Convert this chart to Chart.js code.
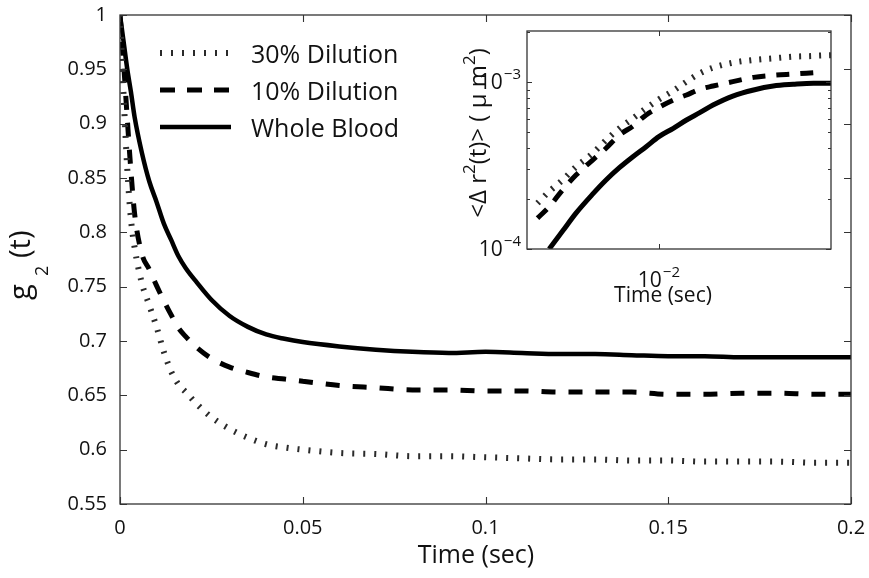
<!DOCTYPE html>
<html><head><meta charset="utf-8">
<script src="https://cdn.jsdelivr.net/npm/chart.js@4.4.0/dist/chart.umd.min.js"></script>
<style>
html,body{margin:0;padding:0;background:#fff;}
#wrap{position:relative;width:869px;height:578px;overflow:hidden;}
#main{position:absolute;left:0;top:0;}
#inset{position:absolute;left:420px;top:20px;}
</style></head><body>
<div id="wrap"><canvas id="main" width="869" height="578"></canvas><canvas id="inset" width="420" height="300"></canvas></div>
<script>
const FONT = '"Open Sans", "Liberation Sans", sans-serif';
const INK = '#111';

// ---- main plot data: g2(t) vs time (sec)
const timeSec = [0, 0.001, 0.002, 0.003, 0.004, 0.006, 0.008, 0.010, 0.012, 0.014, 0.016, 0.018, 0.021, 0.025, 0.03, 0.035, 0.04, 0.045, 0.05, 0.06, 0.07, 0.08, 0.09, 0.1, 0.11, 0.12, 0.13, 0.14, 0.15, 0.16, 0.17, 0.18, 0.19, 0.2];
const dilution30 = [1.0, 0.925, 0.858, 0.812, 0.786, 0.753, 0.733, 0.713, 0.690, 0.672, 0.660, 0.653, 0.642, 0.630, 0.619, 0.611, 0.605, 0.602, 0.600, 0.597, 0.596, 0.594, 0.594, 0.593, 0.592, 0.591, 0.591, 0.590, 0.590, 0.589, 0.589, 0.589, 0.588, 0.588];
const dilution10 = [1.0, 0.955, 0.904, 0.856, 0.817, 0.780, 0.766, 0.751, 0.737, 0.724, 0.712, 0.704, 0.694, 0.684, 0.676, 0.671, 0.667, 0.665, 0.663, 0.659, 0.657, 0.655, 0.655, 0.654, 0.654, 0.653, 0.653, 0.653, 0.651, 0.651, 0.652, 0.652, 0.651, 0.651];
const wholeBlood = [1.0, 0.975, 0.950, 0.929, 0.906, 0.873, 0.847, 0.828, 0.808, 0.793, 0.778, 0.767, 0.754, 0.738, 0.723, 0.713, 0.706, 0.702, 0.699, 0.695, 0.692, 0.690, 0.689, 0.690, 0.689, 0.688, 0.688, 0.687, 0.686, 0.686, 0.685, 0.685, 0.685, 0.685];
const xTickValues = [0, 0.05, 0.1, 0.15, 0.2];
const xTickLabels = ['0', '0.05', '0.1', '0.15', '0.2'];
const yTickValues = [0.55, 0.6, 0.65, 0.7, 0.75, 0.8, 0.85, 0.9, 0.95, 1];
const yTickLabels = ['0.55', '0.6', '0.65', '0.7', '0.75', '0.8', '0.85', '0.9', '0.95', '1'];
const seriesNames = ['30% Dilution', '10% Dilution', 'Whole Blood'];

// ---- inset data: MSD <Δr²(t)> (μm²) vs time (sec), log-log
const insetTime = [0.00448, 0.00484, 0.00529, 0.00578, 0.00645, 0.00705, 0.0077, 0.00842, 0.00919, 0.0100, 0.0110, 0.0120, 0.0131, 0.0143, 0.0163, 0.0187, 0.0213, 0.0243, 0.0278, 0.0287, 0.0312];
const insetDil30 = [1.88e-4, 2.21e-4, 2.59e-4, 3.11e-4, 3.74e-4, 4.49e-4, 5.28e-4, 6.06e-4, 6.96e-4, 7.87e-4, 8.87e-4, 1.005e-3, 1.127e-3, 1.218e-3, 1.305e-3, 1.355e-3, 1.386e-3, 1.418e-3, 1.432e-3, 1.438e-3, 1.445e-3];
const insetDil10 = [1.53e-4, 1.79e-4, 2.26e-4, 2.77e-4, 3.41e-4, 4.01e-4, 4.81e-4, 5.45e-4, 6.35e-4, 7.05e-4, 7.80e-4, 8.36e-4, 9.04e-4, 9.46e-4, 1.005e-3, 1.066e-3, 1.096e-3, 1.116e-3, 1.137e-3, 1.142e-3, null];
const insetWhole = [null, 1.0e-4, 1.28e-4, 1.64e-4, 2.13e-4, 2.59e-4, 3.07e-4, 3.57e-4, 4.10e-4, 4.71e-4, 5.28e-4, 5.92e-4, 6.55e-4, 7.28e-4, 8.24e-4, 8.96e-4, 9.46e-4, 9.68e-4, 9.82e-4, 9.82e-4, 9.82e-4];
const insetXTicks = [1e-2];
const insetYTicks = [1e-4, 1e-3];
const insetXTickExp = ['−2'];
const insetYTickExp = ['−4', '−3'];

const styles = [
  {borderColor: '#2a2a2a', borderWidth: 6, borderDash: [2, 9]},
  {borderColor: '#000', borderWidth: 5, borderDash: [14, 13]},
  {borderColor: '#000', borderWidth: 4.5, borderDash: []}
];
const insetStyles = [
  {borderColor: '#2a2a2a', borderWidth: 6, borderDash: [2, 8]},
  {borderColor: '#000', borderWidth: 5, borderDash: [13, 11]},
  {borderColor: '#000', borderWidth: 5, borderDash: []}
];

function pts(xs, ys) { return xs.map((x, i) => ({x: x, y: ys[i]})); }

function ds(label, data, st) {
  return Object.assign({label: label, data: data, pointRadius: 0, pointHitRadius: 0, fill: false,
    cubicInterpolationMode: 'monotone', borderCapStyle: 'butt', spanGaps: false}, st);
}

// ---- main chart decorations
const mainDeco = {
  id: 'mainDeco',
  afterDraw(chart) {
    const ctx = chart.ctx, a = chart.chartArea;
    const xs = chart.scales.x, ys = chart.scales.y;
    ctx.save();
    ctx.strokeStyle = '#333';
    ctx.lineWidth = 1.3;
    ctx.setLineDash([]);
    ctx.strokeRect(a.left, a.top, a.right - a.left, a.bottom - a.top);
    const tl = 7;
    ctx.beginPath();
    xTickValues.forEach(v => {
      const p = Math.round(xs.getPixelForValue(v)) + 0.5;
      ctx.moveTo(p, a.bottom); ctx.lineTo(p, a.bottom - tl);
      ctx.moveTo(p, a.top); ctx.lineTo(p, a.top + tl);
    });
    yTickValues.forEach(v => {
      const p = Math.round(ys.getPixelForValue(v)) + 0.5;
      ctx.moveTo(a.left, p); ctx.lineTo(a.left + tl, p);
      ctx.moveTo(a.right, p); ctx.lineTo(a.right - tl, p);
    });
    ctx.lineWidth = 1.1;
    ctx.stroke();

    // tick labels
    ctx.fillStyle = INK;
    ctx.font = '20px ' + FONT;
    ctx.textBaseline = 'middle';
    ctx.textAlign = 'center';
    xTickValues.forEach((v, i) => ctx.fillText(xTickLabels[i], xs.getPixelForValue(v), 528));
    ctx.textAlign = 'right';
    yTickValues.forEach((v, i) => ctx.fillText(yTickLabels[i], 107, ys.getPixelForValue(v)));

    // legend
    const baseY = [63, 100, 137];
    const lineY = [53, 90, 127];
    chart.data.datasets.forEach((d, i) => {
      ctx.beginPath();
      ctx.strokeStyle = d.borderColor;
      ctx.lineWidth = d.borderWidth;
      ctx.setLineDash(i === 1 ? [15, 12] : d.borderDash);
      ctx.lineCap = 'butt';
      ctx.moveTo(160, lineY[i]); ctx.lineTo(231, lineY[i]);
      ctx.stroke();
      ctx.setLineDash([]);
      ctx.fillStyle = INK;
      ctx.font = '25px ' + FONT;
      ctx.textAlign = 'left';
      ctx.textBaseline = 'alphabetic';
      ctx.fillText(d.label, 251, baseY[i]);
    });

    // x title
    ctx.fillStyle = INK;
    ctx.font = '25px ' + FONT;
    ctx.textAlign = 'center';
    ctx.textBaseline = 'alphabetic';
    ctx.fillText('Time (sec)', 476, 563);

    // y title g_2(t)
    ctx.translate(30, 300);
    ctx.rotate(-Math.PI / 2);
    ctx.textAlign = 'left';
    ctx.font = '29px ' + FONT;
    ctx.fillText('g', 0, 0);
    ctx.font = '18px ' + FONT;
    ctx.fillText('2', 24, 18);
    ctx.font = '29px ' + FONT;
    ctx.fillText('(t)', 42, 0);
    ctx.restore();
  }
};

new Chart(document.getElementById('main'), {
  type: 'line',
  data: {
    datasets: [
      ds(seriesNames[0], pts(timeSec, dilution30), styles[0]),
      ds(seriesNames[1], pts(timeSec, dilution10), styles[1]),
      ds(seriesNames[2], pts(timeSec, wholeBlood), styles[2])
    ]
  },
  options: {
    responsive: false, animation: false, devicePixelRatio: 1, events: [],
    layout: {autoPadding: false, padding: {left: 0, right: 18, top: 15, bottom: 0}},
    plugins: {legend: {display: false}, tooltip: {enabled: false}},
    scales: {
      x: {
        type: 'linear', min: 0, max: 0.2,
        afterBuildTicks: s => { s.ticks = xTickValues.map(v => ({value: v})); },
        afterFit: s => { s.height = 74; },
        grid: {display: false, drawTicks: false}, border: {display: false},
        ticks: {display: false}
      },
      y: {
        type: 'linear', min: 0.55, max: 1,
        afterBuildTicks: s => { s.ticks = yTickValues.map(v => ({value: v})); },
        afterFit: s => { s.width = 120; },
        grid: {display: false, drawTicks: false}, border: {display: false},
        ticks: {display: false}
      }
    }
  },
  plugins: [mainDeco]
});

// ---- inset decorations
function drawPow(ctx, exp, x, y, align) {
  ctx.font = '21px ' + FONT;
  const w1 = ctx.measureText('10').width;
  ctx.font = '15px ' + FONT;
  const w2 = ctx.measureText(exp).width;
  const tot = w1 + 1 + w2;
  let x0 = align === 'right' ? x - tot : x - tot / 2;
  ctx.textAlign = 'left';
  ctx.textBaseline = 'alphabetic';
  ctx.font = '21px ' + FONT;
  ctx.fillText('10', x0, y);
  ctx.font = '15px ' + FONT;
  ctx.fillText(exp, x0 + w1 + 1, y - 10);
}

const insetDeco = {
  id: 'insetDeco',
  afterDraw(chart) {
    const ctx = chart.ctx, a = chart.chartArea;
    const xs = chart.scales.x, ys = chart.scales.y;
    ctx.save();
    ctx.strokeStyle = '#333';
    ctx.lineWidth = 1.3;
    ctx.setLineDash([]);
    ctx.strokeRect(a.left, a.top, a.right - a.left, a.bottom - a.top);
    ctx.beginPath();
    const tl = 5, tm = 3;
    insetXTicks.forEach(v => {
      const p = Math.round(xs.getPixelForValue(v)) + 0.5;
      ctx.moveTo(p, a.bottom); ctx.lineTo(p, a.bottom - tl);
      ctx.moveTo(p, a.top); ctx.lineTo(p, a.top + tl);
    });
    insetYTicks.forEach(v => {
      const p = Math.round(ys.getPixelForValue(v)) + 0.5;
      ctx.moveTo(a.left, p); ctx.lineTo(a.left + tl, p);
      ctx.moveTo(a.right, p); ctx.lineTo(a.right - tl, p);
    });
    // minor log ticks on y
    for (let dec = 1e-4; dec < ys.max; dec *= 10) {
      for (let m = 2; m <= 9; m++) {
        const v = dec * m;
        if (v >= ys.max) break;
        const p = Math.round(ys.getPixelForValue(v)) + 0.5;
        ctx.moveTo(a.left, p); ctx.lineTo(a.left + tm, p);
        ctx.moveTo(a.right, p); ctx.lineTo(a.right - tm, p);
      }
    }
    ctx.lineWidth = 1;
    ctx.stroke();

    ctx.fillStyle = INK;
    insetYTicks.forEach((v, i) => {
      const p = ys.getPixelForValue(v);
      drawPow(ctx, insetYTickExp[i], a.left - 6, p + 7, 'right');
    });
    insetXTicks.forEach((v, i) => {
      const p = xs.getPixelForValue(v);
      drawPow(ctx, insetXTickExp[i], p, 267, 'center');
    });
    ctx.font = '21px ' + FONT;
    ctx.textAlign = 'center';
    ctx.fillText('Time (sec)', 243, 282);

    // y title <Δ r²(t)> ( μ m²)
    const parts = [['<Δ r', 24, 0], ['2', 17, -11], ['(t)> ( μ m', 24, 0], ['2', 17, -11], [')', 24, 0]];
    let tot = 0;
    parts.forEach(p => { ctx.font = p[1] + 'px ' + FONT; tot += ctx.measureText(p[0]).width; });
    ctx.translate(66, 113);
    ctx.rotate(-Math.PI / 2);
    ctx.textAlign = 'left';
    let x = -tot / 2;
    parts.forEach(p => {
      ctx.font = p[1] + 'px ' + FONT;
      ctx.fillText(p[0], x, p[2]);
      x += ctx.measureText(p[0]).width;
    });
    ctx.restore();
  }
};

new Chart(document.getElementById('inset'), {
  type: 'line',
  data: {
    datasets: [
      ds(seriesNames[0], pts(insetTime, insetDil30), insetStyles[0]),
      ds(seriesNames[1], pts(insetTime, insetDil10), insetStyles[1]),
      ds(seriesNames[2], pts(insetTime, insetWhole), insetStyles[2])
    ]
  },
  options: {
    responsive: false, animation: false, devicePixelRatio: 1, events: [],
    layout: {autoPadding: false, padding: {left: 0, right: 9, top: 11, bottom: 0}},
    plugins: {legend: {display: false}, tooltip: {enabled: false}},
    scales: {
      x: {
        type: 'logarithmic', min: 0.00418, max: 0.0312,
        afterFit: s => { s.height = 71; },
        grid: {display: false, drawTicks: false}, border: {display: false},
        ticks: {display: false}
      },
      y: {
        type: 'logarithmic', min: 1e-4, max: 2.02e-3,
        afterFit: s => { s.width = 107; },
        grid: {display: false, drawTicks: false}, border: {display: false},
        ticks: {display: false}
      }
    }
  },
  plugins: [insetDeco]
});
</script>
</body></html>
